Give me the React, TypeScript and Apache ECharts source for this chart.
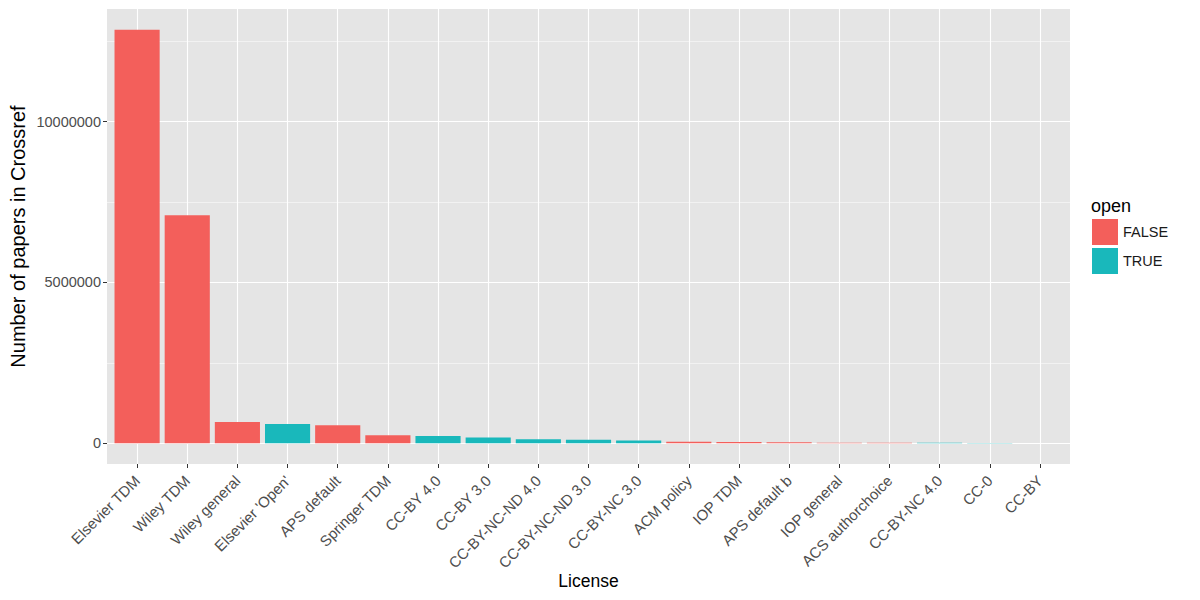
import React, { useEffect, useRef } from "react";
import * as echarts from "echarts";

const categories = [
  "Elsevier TDM", "Wiley TDM", "Wiley general", "Elsevier 'Open'", "APS default",
  "Springer TDM", "CC-BY 4.0", "CC-BY 3.0", "CC-BY-NC-ND 4.0", "CC-BY-NC-ND 3.0",
  "CC-BY-NC 3.0", "ACM policy", "IOP TDM", "APS default b", "IOP general",
  "ACS authorchoice", "CC-BY-NC 4.0", "CC-0", "CC-BY",
];
const papers = [
  12860000, 7090000, 665000, 600000, 560000,
  250000, 230000, 180000, 125000, 110000,
  85000, 50000, 40000, 35000, 20000,
  18000, 15000, 12000, 5000,
];
const isOpen = [
  false, false, false, true, false,
  false, true, true, true, true,
  true, false, false, false, false,
  false, true, true, true,
];
const openLevels = ["FALSE", "TRUE"];
const yMajorTicks = [0, 5000000, 10000000];
const yMinorTicks = [2500000, 7500000, 12500000];

const FONT = "Liberation Sans, Arial, Helvetica, sans-serif";
const COLORS = ["#F35F5B", "#19B8BB"];

export default function App() {
  const ref = useRef<HTMLDivElement>(null);
  useEffect(() => {
    if (!ref.current) return;
    const chart = echarts.init(ref.current, undefined, { renderer: "svg" });
    const maxV = Math.max(...papers);
    const yMin = -0.05 * maxV;
    const yMax = 1.05 * maxV;
    const idx = categories.map((_, i) => i);
    const gridLeft = 107, gridTop = 9, gridWidth = 963, gridHeight = 455;
    const unit = gridWidth / (categories.length - 1 + 1.2);
    const barW = unit * 0.9;

    chart.setOption({
      animation: false,
      backgroundColor: "#ffffff",
      textStyle: { fontFamily: FONT },
      grid: {
        left: gridLeft, top: gridTop, width: gridWidth, height: gridHeight,
        show: true, backgroundColor: "#E5E5E5", borderWidth: 0,
      },
      legend: {
        orient: "vertical",
        left: 1092,
        top: 219,
        padding: 0,
        itemWidth: 26,
        itemHeight: 26,
        itemGap: 3,
        icon: "rect",
        data: openLevels,
        textStyle: { fontSize: 14.5, color: "#1a1a1a", fontFamily: FONT },
      },
      graphic: [
        {
          type: "text",
          left: 1091,
          top: 197,
          style: { text: "open", fontSize: 18, fill: "#000", fontFamily: FONT },
        },
      ],
      xAxis: {
        type: "value",
        min: -0.6,
        max: categories.length - 1 + 0.6,
        axisLine: { show: false, onZero: false },
        axisTick: { show: true, customValues: idx, length: 4, lineStyle: { color: "#333", width: 1 } },
        axisLabel: {
          customValues: idx,
          formatter: (v: number) => categories[Math.round(v)],
          rotate: 45,
          fontSize: 15,
          color: "#4d4d4d",
          margin: 14,
          fontFamily: FONT,
        },
        splitLine: { show: true, lineStyle: { color: "#ffffff", width: 1.1 } },
        name: "License",
        nameLocation: "middle",
        nameMoveOverlap: false,
        nameGap: 108,
        nameTextStyle: { fontSize: 17.5, color: "#000", fontFamily: FONT },
      },
      yAxis: [
        {
          type: "value",
          min: yMin,
          max: yMax,
          axisLine: { show: false, onZero: false },
          axisTick: { show: true, customValues: yMajorTicks, length: 4, lineStyle: { color: "#333", width: 1 } },
          axisLabel: {
            customValues: yMajorTicks,
            formatter: (v: number) => String(Math.round(v)),
            fontSize: 14.5,
            color: "#4d4d4d",
            margin: 6,
            fontFamily: FONT,
          },
          splitLine: { show: true, lineStyle: { color: "#ffffff", width: 1.1 } },
          name: "Number of papers in Crossref",
          nameLocation: "middle",
          nameMoveOverlap: false,
          nameGap: 79,
          nameTextStyle: { fontSize: 20, color: "#000", fontFamily: FONT },
        },
        {
          type: "value",
          min: yMin,
          max: yMax,
          position: "left",
          axisLine: { show: false, onZero: false },
          axisTick: { show: false, customValues: yMinorTicks },
          axisLabel: { show: false, customValues: yMinorTicks },
          splitLine: { show: true, lineStyle: { color: "#ffffff", width: 0.5 } },
        },
      ],
      series: openLevels.map((lvl, k) => ({
        type: "bar",
        name: lvl,
        barWidth: barW,
        barGap: "-100%",
        itemStyle: { color: COLORS[k] },
        data: categories
          .map((_, i) => [i, papers[i]])
          .filter((_, i) => isOpen[i] === (k === 1)),
      })),
    });
    return () => chart.dispose();
  }, []);
  return (
    <div
      ref={ref}
      style={{ position: "fixed", left: 0, top: 0, width: 1200, height: 600 }}
    />
  );
}
